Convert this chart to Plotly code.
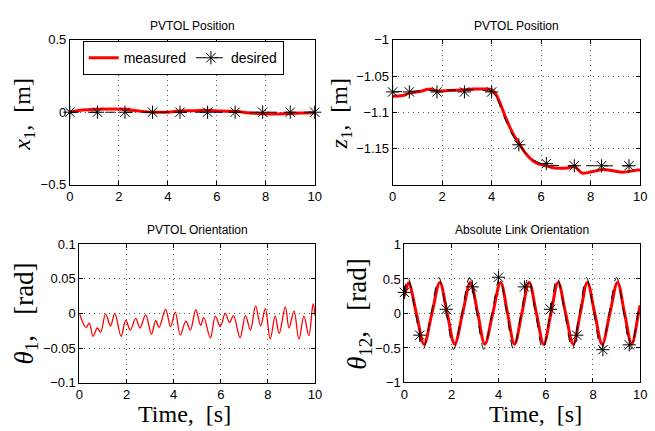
import plotly.graph_objects as go
from plotly.subplots import make_subplots

W, H = 655, 431

# ---------------- data ----------------
# x1 (top-left)
t_x1 = [0, 0.52, 1.06, 1.73, 2.25, 2.8, 3.41, 4.0, 4.5, 5.07, 5.62, 6.14, 6.75, 7.35, 7.87, 8.42, 9.0, 9.46, 10]
x1_meas = [0, 0.016, 0.02, 0.022, 0.02, 0.009, 0.0, 0.0, 0.008, 0.01, 0.013, 0.008, 0.006, -0.005, -0.01, -0.012, -0.009, -0.005, -0.003]
t_x1_des = [0, 1.125, 2.25, 3.375, 4.5, 5.625, 6.75, 7.875, 9.0, 10.0]
x1_des = [0, 0, 0, 0, 0, 0, 0, 0, 0, 0]

# z1 (top-right)
t_z1 = [0, 0.4, 0.65, 1.1, 1.5, 1.8, 2.3, 2.85, 3.25, 3.75, 4.0, 4.15, 4.3, 4.55, 4.9, 5.05, 5.4, 5.8, 6.2,
        6.55, 7.05, 7.35, 7.65, 8.1, 8.5, 8.9, 9.3, 9.9, 10]
z1_meas = [-1.078, -1.077, -1.074, -1.0715, -1.068, -1.071, -1.070, -1.069, -1.068, -1.068, -1.069, -1.074,
           -1.084, -1.106, -1.132, -1.140, -1.158, -1.170, -1.174, -1.177, -1.177, -1.175, -1.184, -1.182,
           -1.179, -1.181, -1.183, -1.180, -1.180]
t_z1_des_line = [0, 4.0, 4.25, 4.5, 4.75, 5.0, 5.25, 5.5, 5.75, 6.0, 6.25, 10]
z1_des_line = [-1.072, -1.072, -1.084, -1.106, -1.126, -1.140, -1.152, -1.161, -1.167, -1.171, -1.173, -1.174]
t_z1_des = [0, 0.675, 1.79, 2.9, 4.0, 5.1, 6.21, 7.34, 8.44, 9.55]
z1_des = [-1.072, -1.072, -1.072, -1.072, -1.072, -1.145, -1.171, -1.174, -1.174, -1.174]

# theta1 (bottom-left)
t_th1 = [0, 0.28, 0.42, 0.58, 0.76, 0.90, 1.11, 1.32, 1.50, 1.77, 1.97, 2.16, 2.39, 2.57, 2.81, 3.06, 3.24,
         3.38, 3.66, 3.87, 4.07, 4.28, 4.52, 4.71, 4.94, 5.15, 5.28, 5.56, 5.77, 5.98, 6.19, 6.37, 6.54, 6.82,
         7.05, 7.26, 7.48, 7.69, 7.89, 8.10, 8.31, 8.48, 8.74, 8.90, 9.11, 9.32, 9.53, 9.74, 9.92, 10.0]
th1_meas = [0, -0.020, -0.014, -0.033, -0.021, -0.027, -0.001, -0.018, 0.0, -0.033, -0.010, -0.024, -0.007,
            -0.021, -0.002, -0.030, -0.010, -0.020, 0.006, -0.019, 0.002, -0.031, -0.011, -0.024, 0.005,
            -0.017, -0.006, -0.035, -0.004, -0.019, 0.0, -0.013, -0.003, -0.035, -0.003, -0.024, 0.011,
            -0.018, 0.007, -0.037, -0.004, -0.029, 0.0095, -0.021, 0.0035, -0.037, -0.004, -0.032, 0.014, -0.003]

# theta12 (bottom-right)
t_th12 = [0, 0.18, 0.505, 0.83, 1.165, 1.5, 1.815, 2.13, 2.465, 2.8, 3.11, 3.41, 3.745, 4.08, 4.375, 4.67,
          4.98, 5.29, 5.6, 5.91, 6.215, 6.52, 6.84, 7.16, 7.46, 7.76, 8.075, 8.39, 8.715, 9.04, 9.34, 9.64,
          9.93, 10]
th12_meas = [0.25, 0.44, 0, -0.445, 0, 0.45, 0, -0.445, 0, 0.45, 0, -0.445, 0, 0.45, 0, -0.445, 0, 0.45, 0,
             -0.445, 0, 0.45, 0, -0.445, 0, 0.45, 0, -0.445, 0, 0.45, 0, -0.445, 0, 0.12]
t_th12_des_line = [0, 0.15, 0.47, 0.79, 1.13, 1.46, 1.78, 2.09, 2.43, 2.76, 3.07, 3.37, 3.71, 4.04, 4.34,
                   4.63, 4.95, 5.25, 5.56, 5.87, 6.18, 6.48, 6.8, 7.12, 7.42, 7.72, 8.04, 8.35, 8.68, 9.0,
                   9.31, 9.6, 9.9, 10]
th12_des_line = [0.3, 0.52, 0, -0.52, 0, 0.52, 0, -0.52, 0, 0.52, 0, -0.52, 0, 0.52, 0, -0.52, 0, 0.52, 0,
                 -0.52, 0, 0.52, 0, -0.52, 0, 0.52, 0, -0.52, 0, 0.52, 0, -0.52, 0, 0.17]
t_th12_des = [0.0, 0.65, 1.77, 2.88, 3.99, 5.09, 6.2, 7.31, 8.42, 9.54]
th12_des = [0.305, -0.315, 0.06, 0.385, 0.525, 0.385, 0.06, -0.315, -0.525, -0.455]

x_ticks = [0, 2, 4, 6, 8, 10]

# ---------------- figure ----------------
fig = make_subplots(rows=2, cols=2)

RED = '#ff0000'
star = dict(symbol='asterisk-open', size=11, color='black', line=dict(color='black', width=1))

# top-left
fig.add_trace(go.Scatter(x=t_x1, y=x1_meas, mode='lines', name='measured', line=dict(color=RED, width=3, shape='spline')), 1, 1)
fig.add_trace(go.Scatter(x=t_x1_des, y=x1_des, mode='lines+markers', name='desired',
                         line=dict(color='black', width=1, dash='dash'), marker=star, cliponaxis=False), 1, 1)
# top-right
fig.add_trace(go.Scatter(x=t_z1, y=z1_meas, mode='lines', showlegend=False, line=dict(color=RED, width=3, shape='spline', smoothing=0.8)), 1, 2)
fig.add_trace(go.Scatter(x=t_z1_des_line, y=z1_des_line, mode='lines', showlegend=False,
                         line=dict(color='black', width=1, dash='dash', shape='spline', smoothing=0.6)), 1, 2)
fig.add_trace(go.Scatter(x=t_z1_des, y=z1_des, mode='markers', showlegend=False, marker=star, cliponaxis=False), 1, 2)
# bottom-left
fig.add_trace(go.Scatter(x=t_th1, y=th1_meas, mode='lines', showlegend=False, line=dict(color=RED, width=1.3, shape='spline')), 2, 1)
# bottom-right
fig.add_trace(go.Scatter(x=t_th12, y=th12_meas, mode='lines', showlegend=False, line=dict(color=RED, width=3, shape='spline')), 2, 2)
fig.add_trace(go.Scatter(x=t_th12_des_line, y=th12_des_line, mode='lines', showlegend=False,
                         line=dict(color='black', width=1, dash='dash', shape='spline')), 2, 2)
fig.add_trace(go.Scatter(x=t_th12_des, y=th12_des, mode='markers', showlegend=False, marker=star, cliponaxis=False), 2, 2)

tickfont = dict(family='Liberation Sans, Arial, sans-serif', size=13, color='black')
ax = dict(showline=True, linecolor='black', linewidth=1, mirror='ticks', ticks='inside', ticklen=4,
          tickcolor='black', showgrid=True, gridcolor='#555', gridwidth=1, griddash='1px,4px',
          zeroline=False, tickfont=tickfont)

def px_x(a, b):
    return [a / W, b / W]

def px_y(top, bot):
    return [1 - bot / H, 1 - top / H]

fig.update_layout(
    xaxis=dict(ax, domain=px_x(67, 316), range=[0, 10], tickvals=x_ticks),
    yaxis=dict(ax, domain=px_y(34, 184), range=[-0.5, 0.5], tickvals=[-0.5, 0, 0.5]),
    xaxis2=dict(ax, domain=px_x(395.3, 647), range=[0, 10], tickvals=x_ticks),
    yaxis2=dict(ax, domain=px_y(34, 184), range=[-1.2, -1], tickvals=[-1.15, -1.1, -1.05, -1]),
    xaxis3=dict(ax, domain=px_x(76.7, 316.3), range=[0, 10], tickvals=x_ticks),
    yaxis3=dict(ax, domain=px_y(245.7, 389.3), range=[-0.1, 0.1], tickvals=[-0.1, -0.05, 0, 0.05, 0.1]),
    xaxis4=dict(ax, domain=px_x(407.3, 647), range=[0, 10], tickvals=x_ticks),
    yaxis4=dict(ax, domain=px_y(246, 389), range=[-1, 1], tickvals=[-1, -0.5, 0, 0.5, 1]),
)

fig.update_layout(
    width=W, height=H, margin=dict(l=0, r=0, t=0, b=0),
    paper_bgcolor='white', plot_bgcolor='white',
    showlegend=True,
    legend=dict(x=80 / W, y=1 - 53 / H, xanchor='left', yanchor='middle', orientation='h',
                bgcolor='white', bordercolor='black', borderwidth=1,
                font=dict(family='Liberation Sans, Arial, sans-serif', size=14, color='black'),
                itemwidth=30, tracegroupgap=0),
)

ann = []
title_font = dict(family='Liberation Sans, Arial, sans-serif', size=12, color='black')
for text, xc, yc in [('PVTOL Position', 191.5, 20), ('PVTOL Position', 521, 20),
                     ('PVTOL Orientation', 196.5, 231), ('Absolute Link Orientation', 527, 231)]:
    ann.append(dict(text=text, x=xc / W, y=1 - yc / H, xref='paper', yref='paper', showarrow=False,
                    xanchor='center', yanchor='middle', font=title_font))

serif = 'Liberation Serif, Times New Roman, serif'
for text, xc, yc, fs in [('<i>x</i><sub>1</sub>,  [m]', 20, 111, 24), ('<i>z</i><sub>1</sub>,  [m]', 343, 111, 24),
                         ('<i>θ</i><sub>1</sub>,   [rad]', 22, 318, 27), ('<i>θ</i><sub>12</sub>,   [rad]', 361, 318, 27)]:
    ann.append(dict(text=text, x=xc / W, y=1 - yc / H, xref='paper', yref='paper', showarrow=False,
                    xanchor='center', yanchor='middle', textangle=-90,
                    font=dict(family=serif, size=fs, color='black')))

for xc in [184, 541]:
    ann.append(dict(text='Time,  [s]', x=xc / W, y=1 - 422 / H, xref='paper', yref='paper', showarrow=False,
                    xanchor='center', yanchor='middle', font=dict(family=serif, size=24, color='black')))

fig.update_layout(annotations=ann)

fig.write_html("out.html", config={'displayModeBar': False},
               post_script="document.body.style.margin='0';document.body.style.padding='0';")
